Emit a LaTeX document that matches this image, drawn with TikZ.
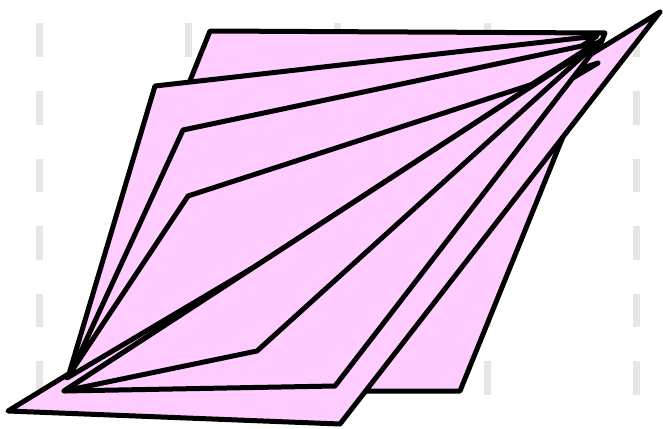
\documentclass[tikz,border=0pt]{standalone}
\begin{document}
\begin{tikzpicture}[x=1pt,y=-1pt,
  gridmark/.style={draw=gridgray,line width=7pt,dash pattern=on 33.5pt off 34pt},
  leaf/.style={draw=black,fill=leafpink,line width=5pt,line join=round,line cap=round}]
\definecolor{leafpink}{HTML}{FFCCFF}
\definecolor{gridgray}{HTML}{E6E6E6}
\useasboundingbox (0,0) rectangle (663,428);
% background dashed guides
\foreach \gx in {39.5,188.7,337.9,487.1,636.3}
  \draw[gridmark] (\gx,23.5) -- (\gx,400);
% shapes, back to front
\draw[leaf] (65,391) -- (210,31) -- (605,33) -- (460,391) -- cycle;
\draw[leaf] (66,384) -- (155,86) -- (597,36) -- cycle;
\draw[leaf] (66,384) -- (183,130) -- (596,43) -- cycle;
\draw[leaf] (8,411) -- (660,12) -- (340,424) -- cycle;
\draw[leaf] (67,378) -- (188,196) -- (598,63) -- cycle;
\draw[leaf] (64,391) -- (335,386) -- (602,40) -- cycle;
\draw[leaf] (64,391) -- (257,351) -- (595,45) -- cycle;
\end{tikzpicture}
\end{document}
